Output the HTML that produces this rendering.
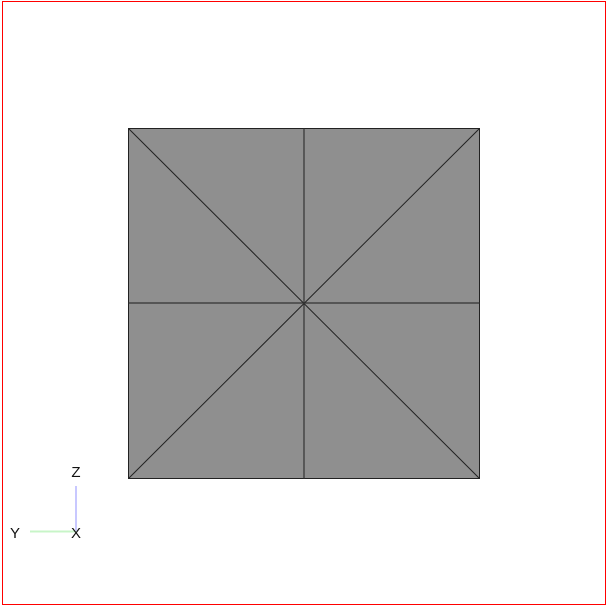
<!DOCTYPE html>
<html><head><style>
html,body{margin:0;padding:0;background:#fff;}
svg{display:block;}
text{font-family:"Liberation Sans",sans-serif;font-size:15px;fill:#111;}
</style></head><body>
<svg width="608" height="608" viewBox="0 0 608 608">
<rect x="2.5" y="1.5" width="603" height="603" fill="none" stroke="#ff0000" stroke-width="1"/>
<g>
<rect x="128.5" y="128.5" width="351" height="350" fill="#8f8f8f" stroke="#222" stroke-width="1"/>
<line x1="128.5" y1="128.5" x2="479.5" y2="478.5" stroke="#222" stroke-width="1"/>
<line x1="479.5" y1="128.5" x2="128.5" y2="478.5" stroke="#222" stroke-width="1"/>
<line x1="304" y1="128.5" x2="304" y2="478.5" stroke="#333" stroke-width="1.2"/>
<line x1="128.5" y1="303" x2="479.5" y2="303" stroke="#333" stroke-width="1.2"/>
</g>
<g>
<line x1="76" y1="486" x2="76" y2="531" stroke="#c8c8ff" stroke-width="2"/>
<line x1="30" y1="531.5" x2="76" y2="531.5" stroke="#c8f5c8" stroke-width="2"/>
<text x="76" y="477" text-anchor="middle">Z</text>
<text x="15" y="538" text-anchor="middle">Y</text>
<text x="76" y="538" text-anchor="middle">X</text>
</g>
</svg>
</body></html>
